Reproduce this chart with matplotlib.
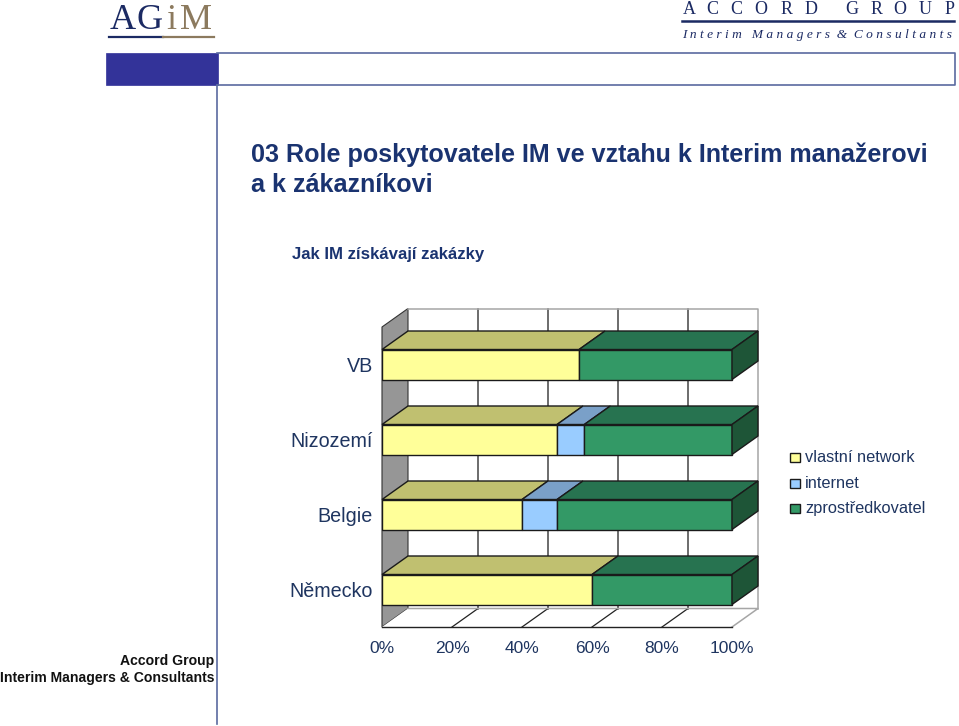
import matplotlib
matplotlib.use('Agg')
from matplotlib import pyplot as plt
from matplotlib.patches import Polygon, Rectangle

plt.rcParams['font.family'] = ['Liberation Sans', 'DejaVu Sans']

categories = ['VB', 'Nizozemí', 'Belgie', 'Německo']
vlastni_network = [56.3, 50, 40, 60]
internet = [0, 7.8, 10, 0]
zprostredkovatel = [43.7, 42.2, 50, 40]
series_names = ['vlastní network', 'internet', 'zprostředkovatel']
x_ticks = [0, 20, 40, 60, 80, 100]
x_tick_labels = ['0%', '20%', '40%', '60%', '80%', '100%']

W, H = 959, 726
navy = '#1f3560'
title_col = '#1a3370'
line_blue = '#5a6aa0'
front_cols = ['#ffff99', '#99ccff', '#339966']
top_cols = ['#c0c070', '#7aa0c8', '#277350']
side_cols = ['#8f8f60', '#6a8ab0', '#1e5537']
edge = '#1a1a1a'

fig = plt.figure(figsize=(W / 100, H / 100), dpi=100)

# page decoration, pixel coordinates
bg = fig.add_axes([0, 0, 1, 1])
bg.set_xlim(0, W)
bg.set_ylim(H, 0)
bg.axis('off')
bg.add_patch(Rectangle((106, 53), 112, 32, fc='#333399', ec='#333399', lw=0.5))
bg.plot([217, 955, 955, 217], [53, 53, 85, 85], color=line_blue, lw=1.2)
bg.plot([217, 217], [85, 724], color=line_blue, lw=1.2)
bg.plot([109, 163], [36.5, 36.5], color='#1b2a63', lw=1.6)
bg.plot([163, 214], [36.5, 36.5], color='#8c7a5e', lw=1.6)
bg.plot([682, 954], [20.5, 20.5], color='#1b2a63', lw=1.8)
for x, ch, col in zip([110, 137, 166, 180], 'AGiM', ['#1b2a63', '#1b2a63', '#8c7a5e', '#8c7a5e']):
    bg.text(x, 29, ch, family='Liberation Serif', fontsize=26, color=col, ha='left', va='baseline')
accord_x = [683, 706, 730, 754, 781, 805, 845, 871, 893, 919, 945]
for x, ch in zip(accord_x, 'ACCORDGROUP'):
    bg.text(x, 13.5, ch, family='Liberation Serif', fontsize=13, color='#1b2a63', ha='left', va='baseline')
bg.text(682, 38, 'I n t e r i m   M a n a g e r s  &  C o n s u l t a n t s', family='Liberation Serif',
        style='italic', fontsize=9.6, color='#1b2a63', ha='left', va='baseline')
bg.text(251, 162, '03 Role poskytovatele IM ve vztahu k Interim manažerovi', fontsize=18.1, color=title_col,
        fontweight='bold', ha='left', va='baseline')
bg.text(251, 192, 'a k zákazníkovi', fontsize=18.1, color=title_col, fontweight='bold', ha='left', va='baseline')
bg.text(292, 259, 'Jak IM získávají zakázky', fontsize=12.1, color=title_col, fontweight='bold', ha='left', va='baseline')
bg.text(214, 665, 'Accord Group', fontsize=10.1, fontweight='bold', color='#111111', ha='right', va='baseline')
bg.text(214, 682, 'Interim Managers & Consultants', fontsize=10.1, fontweight='bold', color='#111111',
        ha='right', va='baseline')

# plot area: x 0-100 is 382-732 px, one category is 75 px
dx = 26 / 3.5
dy = 18.5 / 75
ax = fig.add_axes([382 / W, 1 - 627 / H, 376 / W, (627 - 308.5) / H])
ax.set_xlim(0, 100 + dx)
ax.set_ylim(3.5, -0.5 - dy)
ax.patch.set_alpha(0)
for s in ax.spines.values():
    s.set_visible(False)

top = -0.5 - dy
floor = 3.5 - dy

# left wall and floor
ax.add_patch(Polygon([(0, 3.5), (dx, floor), (dx, top), (0, -0.5)], fc='#969696', ec='#333333', lw=0.8,
                     zorder=1, clip_on=False))
ax.add_patch(Polygon([(0, 3.5), (dx, floor), (100 + dx, floor), (100, 3.5)], fc='white', ec='none', zorder=1))

# back wall grid
for t in x_ticks[1:-1]:
    ax.plot([t + dx, t + dx], [top, floor], color='#444444', lw=1.1, zorder=2, clip_on=False)
    ax.plot([t, t + dx], [3.5, floor], color='#222222', lw=0.9, zorder=2, clip_on=False)
ax.plot([dx, 100 + dx, 100 + dx], [top, top, floor], color='#a6a6a6', lw=1.1, zorder=2, clip_on=False)
ax.plot([dx, 100 + dx, 100], [floor, floor, 3.5], color='#a6a6a6', lw=1.1, zorder=2, clip_on=False)
ax.plot([0, 100], [3.5, 3.5], color='#222222', lw=1.0, zorder=2, clip_on=False)

# bars, back one first so the front ones sit on top
series = [vlastni_network, internet, zprostredkovatel]
bar_h = 0.4
for i in range(len(categories)):
    left = 0
    yt = i - bar_h / 2
    yb = i + bar_h / 2
    for j, vals in enumerate(series):
        v = vals[i]
        if v == 0:
            continue
        ax.add_patch(Polygon([(left, yt), (left + dx, yt - dy), (left + v + dx, yt - dy), (left + v, yt)],
                             fc=top_cols[j], ec=edge, lw=1.0, zorder=3 + i, clip_on=False))
        ax.barh(i, v, height=bar_h, left=left, color=front_cols[j], edgecolor=edge, linewidth=1.0, zorder=3 + i)
        left += v
    ax.add_patch(Polygon([(left, yt), (left + dx, yt - dy), (left + dx, yb - dy), (left, yb)],
                         fc=side_cols[2], ec=edge, lw=1.0, zorder=3 + i, clip_on=False))

ax.set_xticks(x_ticks, x_tick_labels)
ax.set_yticks(range(len(categories)), categories)
ax.tick_params(axis='x', length=0, pad=10, labelsize=12.5, labelcolor=navy)
ax.tick_params(axis='y', length=0, pad=6.5, labelsize=14.2, labelcolor=navy)
ax.set_ylim(3.5, -0.5 - dy)

# legend
for y, name, col in zip([457.5, 483, 508], series_names, front_cols):
    bg.add_patch(Rectangle((790, y - 4.5), 10, 9, fc=col, ec=edge, lw=1.0))
    bg.text(805, y + 5, name, fontsize=11.8, color=navy, ha='left', va='baseline')

fig.savefig('out.png', dpi=100)
